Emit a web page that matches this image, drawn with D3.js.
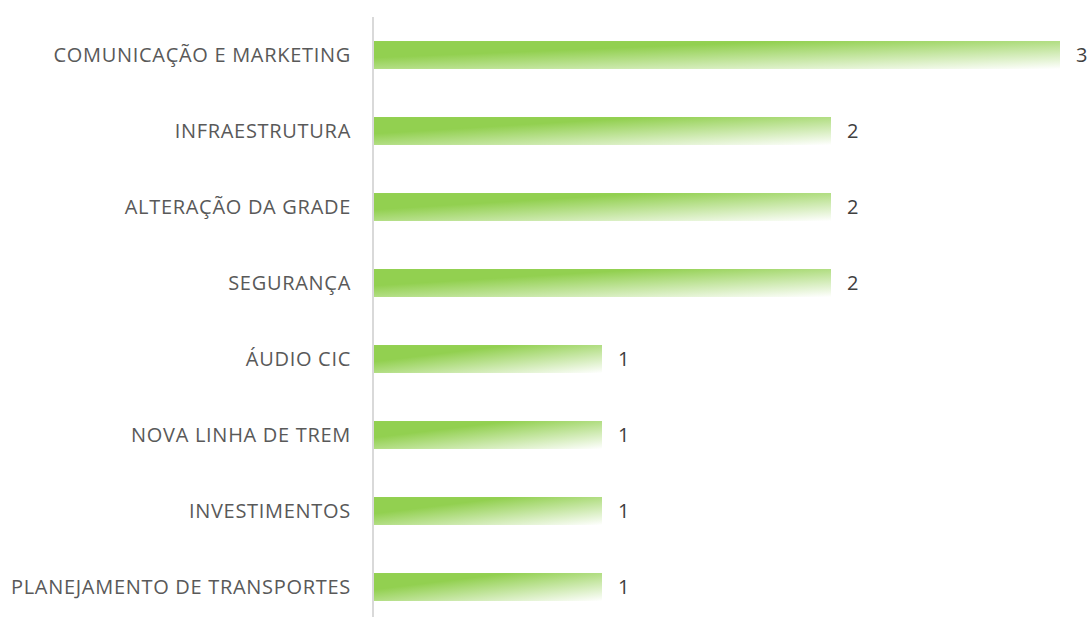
<!DOCTYPE html>
<html>
<head>
<meta charset="utf-8">
<script src="https://cdn.jsdelivr.net/npm/d3@7"></script>
<style>
  body { margin: 0; background: #fff; }
  text { font-family: "Open Sans", sans-serif; }
</style>
</head>
<body>
<div class="chart"></div>
<script>
var svgWidth = 1091;
var svgHeight = 617;

// data
var categories = [
  "COMUNICAÇÃO E MARKETING",
  "INFRAESTRUTURA",
  "ALTERAÇÃO DA GRADE",
  "SEGURANÇA",
  "ÁUDIO CIC",
  "NOVA LINHA DE TREM",
  "INVESTIMENTOS",
  "PLANEJAMENTO DE TRANSPORTES"
];
var values = [3, 2, 2, 2, 1, 1, 1, 1];

var margin = { top: 17, right: 31, bottom: -8, left: 373 };

var svg = d3.select(".chart")
  .append("svg")
  .attr("width", svgWidth)
  .attr("height", svgHeight);

// gradient fill: green top-left fading to white bottom-right
var defs = svg.append("defs");
var grad = defs.append("linearGradient")
  .attr("id", "barGrad")
  .attr("x1", 0).attr("y1", 0)
  .attr("x2", 1).attr("y2", 1);
grad.append("stop").attr("offset", "0").attr("stop-color", "#92D050");
grad.append("stop").attr("offset", "0.3").attr("stop-color", "#92D050");
grad.append("stop").attr("offset", "1").attr("stop-color", "#ffffff");

var xScale = d3.scaleLinear()
  .domain([0, 3])
  .range([margin.left, svgWidth - margin.right]);

var yScale = d3.scaleBand()
  .domain(categories)
  .range([margin.top, svgHeight - margin.bottom])
  .paddingInner(0.632)
  .paddingOuter(0.316);

var data = categories.map((c, i) => ({ cat: c, val: values[i] }));

// bars
svg.selectAll("rect.bar")
  .data(data)
  .enter()
  .append("rect")
  .attr("class", "bar")
  .attr("x", xScale(0))
  .attr("y", d => yScale(d.cat))
  .attr("width", d => xScale(d.val) - xScale(0))
  .attr("height", yScale.bandwidth())
  .attr("fill", "url(#barGrad)");

// vertical axis line
svg.append("line")
  .attr("x1", xScale(0)).attr("x2", xScale(0))
  .attr("y1", margin.top).attr("y2", svgHeight)
  .attr("stroke", "#d9d9d9")
  .attr("stroke-width", 2);

// category labels
svg.selectAll("text.cat")
  .data(data)
  .enter()
  .append("text")
  .attr("class", "cat")
  .attr("x", xScale(0) - 22)
  .attr("y", d => yScale(d.cat) + yScale.bandwidth() / 2)
  .attr("dy", "0.35em")
  .attr("text-anchor", "end")
  .attr("font-size", "20px")
  .attr("letter-spacing", "0.7px")
  .attr("fill", "#595959")
  .text(d => d.cat);

// value labels
svg.selectAll("text.val")
  .data(data)
  .enter()
  .append("text")
  .attr("class", "val")
  .attr("x", d => xScale(d.val) + 16)
  .attr("y", d => yScale(d.cat) + yScale.bandwidth() / 2)
  .attr("dy", "0.35em")
  .attr("font-size", "20px")
  .attr("fill", "#404040")
  .text(d => d.val);
</script>
</body>
</html>
